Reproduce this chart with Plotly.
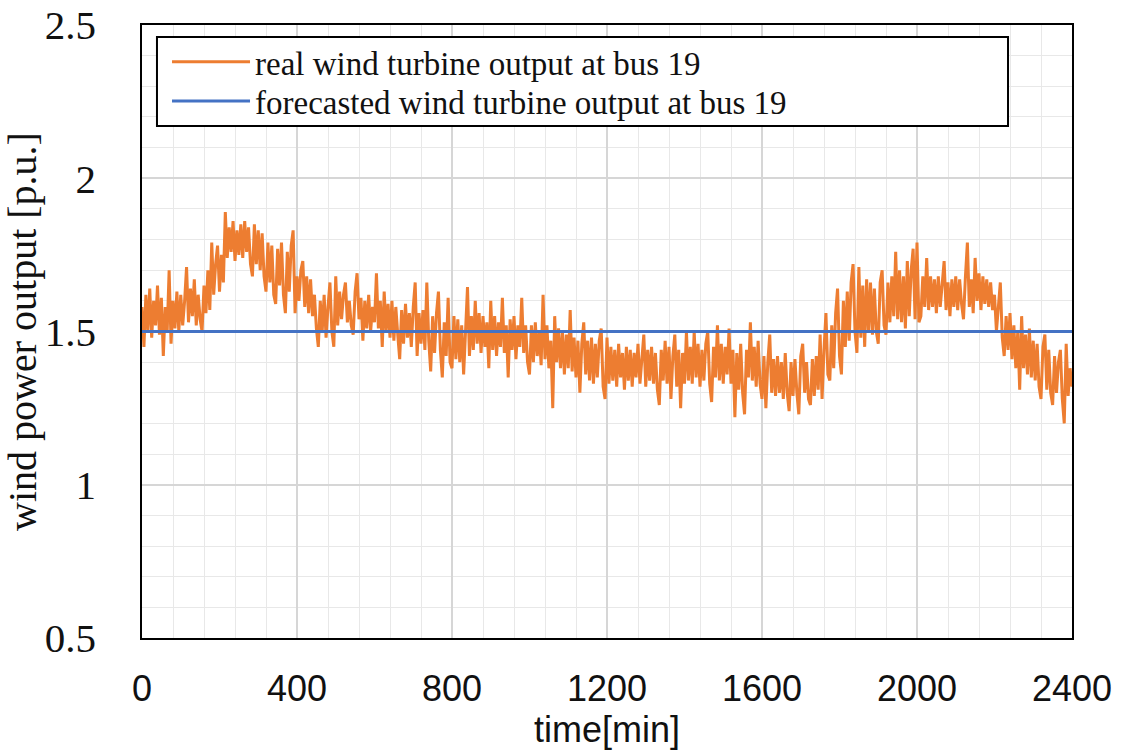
import plotly.graph_objects as go

# ---- data (5-minute steps) ----
time_min = list(range(0, 2401, 5))
real_output = [
    # 0-95
    1.58, 1.45, 1.62, 1.50, 1.64, 1.48, 1.60, 1.52, 1.65, 1.49,
    1.61, 1.42, 1.58, 1.50, 1.70, 1.46, 1.60, 1.51, 1.63, 1.50,
    # 100-195
    1.62, 1.52, 1.60, 1.71, 1.53, 1.64, 1.55, 1.67, 1.52, 1.62,
    1.54, 1.50, 1.65, 1.56, 1.70, 1.57, 1.79, 1.62, 1.72, 1.78,
    # 200-295
    1.63, 1.75, 1.66, 1.89, 1.74, 1.84, 1.76, 1.86, 1.73, 1.83,
    1.75, 1.85, 1.74, 1.86, 1.76, 1.84, 1.72, 1.68, 1.85, 1.72,
    # 300-395
    1.83, 1.70, 1.82, 1.68, 1.63, 1.79, 1.66, 1.78, 1.62, 1.59,
    1.77, 1.65, 1.79, 1.62, 1.56, 1.76, 1.63, 1.78, 1.83, 1.56,
    # 400-495
    1.68, 1.60, 1.70, 1.73, 1.58, 1.68, 1.56, 1.67, 1.55, 1.62,
    1.51, 1.45, 1.60, 1.50, 1.62, 1.48, 1.58, 1.66, 1.50, 1.45,
    # 500-595
    1.68, 1.52, 1.63, 1.54, 1.62, 1.66, 1.53, 1.60, 1.52, 1.49,
    1.63, 1.69, 1.54, 1.61, 1.47, 1.60, 1.51, 1.62, 1.50, 1.58,
    # 600-695
    1.53, 1.69, 1.51, 1.60, 1.45, 1.63, 1.50, 1.59, 1.48, 1.60,
    1.47, 1.58, 1.49, 1.41, 1.57, 1.46, 1.59, 1.48, 1.56, 1.45,
    # 700-795
    1.58, 1.66, 1.42, 1.56, 1.46, 1.57, 1.44, 1.66, 1.47, 1.37,
    1.55, 1.43, 1.56, 1.63, 1.44, 1.35, 1.53, 1.42, 1.61, 1.40,
    # 800-895
    1.38, 1.55, 1.41, 1.54, 1.40, 1.52, 1.36, 1.50, 1.645, 1.42,
    1.55, 1.44, 1.60, 1.46, 1.56, 1.43, 1.55, 1.45, 1.53, 1.38,
    # 900-995
    1.60, 1.44, 1.55, 1.42, 1.53, 1.45, 1.61, 1.43, 1.52, 1.35,
    1.54, 1.44, 1.55, 1.41, 1.52, 1.45, 1.61, 1.43, 1.52, 1.40,
    # 1000-1095
    1.36, 1.52, 1.40, 1.53, 1.42, 1.50, 1.39, 1.62, 1.41, 1.52,
    1.38, 1.47, 1.25, 1.55, 1.40, 1.51, 1.38, 1.50, 1.36, 1.49,
    # 1100-1195
    1.38, 1.57, 1.37, 1.48, 1.35, 1.47, 1.30, 1.46, 1.53, 1.36,
    1.47, 1.34, 1.48, 1.33, 1.46, 1.35, 1.47, 1.51, 1.32, 1.28,
    # 1200-1295
    1.48, 1.33, 1.45, 1.34, 1.44, 1.32, 1.46, 1.35, 1.43, 1.31,
    1.45, 1.34, 1.44, 1.32, 1.43, 1.35, 1.46, 1.33, 1.42, 1.49,
    # 1300-1395
    1.32, 1.44, 1.34, 1.45, 1.33, 1.43, 1.31, 1.26, 1.44, 1.34,
    1.47, 1.33, 1.45, 1.28, 1.42, 1.49, 1.32, 1.44, 1.25, 1.43,
    # 1400-1495
    1.33, 1.50, 1.34, 1.45, 1.33, 1.50, 1.35, 1.46, 1.32, 1.44,
    1.34, 1.46, 1.50, 1.33, 1.27, 1.45, 1.35, 1.52, 1.34, 1.46,
    # 1500-1595
    1.33, 1.45, 1.36, 1.51, 1.33, 1.44, 1.22, 1.43, 1.31, 1.46,
    1.30, 1.23, 1.44, 1.35, 1.53, 1.34, 1.45, 1.32, 1.47, 1.33,
    # 1600-1695
    1.28, 1.42, 1.25, 1.40, 1.49, 1.30, 1.41, 1.29, 1.42, 1.30,
    1.40, 1.28, 1.43, 1.30, 1.24, 1.40, 1.29, 1.41, 1.30, 1.23,
    # 1700-1795
    1.42, 1.46, 1.30, 1.40, 1.28, 1.26, 1.41, 1.29, 1.42, 1.31,
    1.49, 1.28, 1.44, 1.56, 1.36, 1.34, 1.52, 1.38, 1.56, 1.64,
    # 1800-1895
    1.42, 1.36, 1.60, 1.45, 1.63, 1.47, 1.66, 1.72, 1.50, 1.43,
    1.71, 1.48, 1.65, 1.45, 1.67, 1.50, 1.66, 1.49, 1.64, 1.50,
    # 1900-1995
    1.46, 1.66, 1.70, 1.52, 1.49, 1.66, 1.53, 1.68, 1.55, 1.76,
    1.54, 1.70, 1.53, 1.68, 1.51, 1.73, 1.55, 1.70, 1.77, 1.54,
    # 2000-2095
    1.79, 1.53, 1.55, 1.68, 1.58, 1.74, 1.57, 1.68, 1.58, 1.67,
    1.56, 1.68, 1.58, 1.66, 1.73, 1.57, 1.66, 1.55, 1.67, 1.58,
    # 2100-2195
    1.68, 1.57, 1.67, 1.59, 1.54, 1.68, 1.79, 1.58, 1.67, 1.56,
    1.74, 1.60, 1.69, 1.57, 1.68, 1.59, 1.67, 1.58, 1.66, 1.57,
    # 2200-2295
    1.62, 1.50, 1.58, 1.66, 1.48, 1.42, 1.55, 1.44, 1.56, 1.41,
    1.52, 1.38, 1.50, 1.31, 1.55, 1.38, 1.49, 1.36, 1.51, 1.35,
    # 2300-2395
    1.47, 1.34, 1.46, 1.32, 1.28, 1.45, 1.49, 1.31, 1.44, 1.30,
    1.26, 1.42, 1.30, 1.40, 1.44, 1.28, 1.20, 1.46, 1.29, 1.38,
    # 2400
    1.32,
]
forecast_time = [0, 2400]
forecast_output = [1.5, 1.5]

x_ticks = [0, 400, 800, 1200, 1600, 2000, 2400]
y_ticks = [0.5, 1, 1.5, 2, 2.5]

legend_font = dict(family="Liberation Serif", size=33, color="#111")

fig = go.Figure()
fig.add_trace(go.Scatter(
    x=time_min, y=real_output, mode="lines",
    name="real wind turbine output at bus 19",
    line=dict(color="#ED7D31", width=3),
    legend="legend",
))
fig.add_trace(go.Scatter(
    x=forecast_time, y=forecast_output, mode="lines",
    name="forecasted wind turbine output at bus 19",
    line=dict(color="#4472C4", width=3),
    legend="legend2",
))

fig.update_layout(
    width=1129, height=751,
    margin=dict(l=142, r=57, t=25, b=113, autoexpand=False),
    paper_bgcolor="white", plot_bgcolor="white",
    showlegend=True,
    legend=dict(
        x=0.0269, y=0.9400, xanchor="left", yanchor="middle",
        bgcolor="rgba(0,0,0,0)", borderwidth=0,
        font=legend_font, itemwidth=78,
    ),
    legend2=dict(
        x=0.0269, y=0.8760, xanchor="left", yanchor="middle",
        bgcolor="rgba(0,0,0,0)", borderwidth=0,
        font=legend_font, itemwidth=78,
    ),
    shapes=[dict(
        type="rect", xref="paper", yref="paper",
        x0=0.0161, x1=0.9312, y0=0.8352, y1=0.9804,
        line=dict(color="black", width=2), fillcolor="white", layer="above",
    )],
)
fig.update_xaxes(
    range=[0, 2400], tickmode="array", tickvals=x_ticks,
    showgrid=True, gridcolor="#d6d6d6", gridwidth=1.5,
    minor=dict(dtick=80, tick0=0, showgrid=True, gridcolor="#e8e8e8", gridwidth=1),
    showline=True, mirror=True, linecolor="black", linewidth=1.5,
    zeroline=False, ticks="", automargin=False,
    tickfont=dict(family="Liberation Sans", size=36, color="#111"),
    ticklabelstandoff=18,
    title=dict(text="time[min]", font=dict(family="Liberation Sans", size=36, color="#111"), standoff=0),
)
fig.update_yaxes(
    range=[0.5, 2.5], tickmode="array", tickvals=y_ticks,
    showgrid=True, gridcolor="#d6d6d6", gridwidth=1.5,
    minor=dict(dtick=0.1, tick0=0.5, showgrid=True, gridcolor="#e8e8e8", gridwidth=1),
    showline=True, mirror=True, linecolor="black", linewidth=1.5,
    zeroline=False, ticks="", automargin=False,
    tickfont=dict(family="Liberation Serif", size=41, color="#111"),
    ticklabelstandoff=36,
    title=dict(text="wind power output [p.u.]", font=dict(family="Liberation Serif", size=40, color="#111"), standoff=10),
)

fig.write_html("out.html")
